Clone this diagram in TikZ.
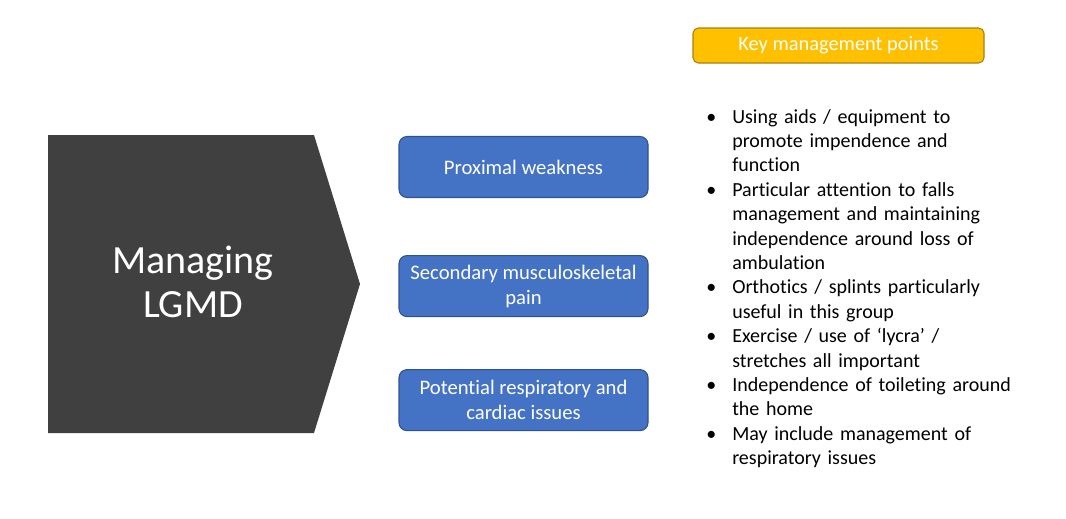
\documentclass[tikz,border=0pt]{standalone}
\usepackage{fontspec}
\setmainfont{Carlito}[Ligatures=NoCommon]
\usepackage{tikz}
\usetikzlibrary{positioning}
\definecolor{chevgray}{HTML}{404040}
\definecolor{boxblue}{HTML}{4472C4}
\definecolor{boxline}{HTML}{2F528F}
\definecolor{keyyellow}{HTML}{FFC000}
\definecolor{keyline}{HTML}{A5820C}
\tikzstyle{bluebox}  =
[
	draw=boxline,fill=boxblue,rectangle,line width=0.8pt,rounded corners=6pt,
	minimum width=186.75pt, minimum height=45.75pt,
	align=center, text=white, font=\fontsize{15.5}{18.8}\selectfont
]
\tikzstyle{keybox} =
[
	draw=keyline,fill=keyyellow,rectangle,line width=0.8pt,rounded corners=4pt,
	minimum width=218.25pt, minimum height=26.25pt,
	text=white, font=\fontsize{15.3}{18}\selectfont
]
\tikzstyle{dot} = [anchor=base west, inner sep=0pt, font=\fontsize{15}{18.3}\selectfont]
\tikzstyle{point} =
[
	anchor=base west, inner sep=0pt, text width=240pt, align=left,
	font=\fontsize{15}{18.3}\selectfont
]

\begin{document}
\begin{tikzpicture}[x=0.75pt,y=-0.75pt]
\useasboundingbox (0,0) rectangle (1066,518);

% chevron
\fill[chevgray] (48,135) -- (314,135) -- (360,284) -- (314,433) -- (48,433) -- cycle;
\node[text=white, inner sep=0pt, text width=200pt, align=center, anchor=base,
      font=\fontsize{30}{33}\selectfont] (title) at (193,273) {Managing\\LGMD};

% issues
\node[bluebox] (prox) at (523.5,167) {Proximal weakness};
\node[bluebox] (pain) [below=42.75pt of prox] {Secondary musculoskeletal\\pain};
\node[bluebox] (resp) [below=39pt of pain] {Potential respiratory and\\cardiac issues};

% key points
\node[keybox] (key) at (838.5,45.5) {Key management points};

\node[dot] (d1) at (706,123) {\textbullet};
\node[point] (p1) at (732,123) {Using aids / equipment to\\promote impendence and\\function};
\node[dot] (d2) at (706,196.2) {\textbullet};
\node[point] (p2) at (732,196.2) {Particular attention to falls\\management and maintaining\\independence around loss of\\ambulation};
\node[dot] (d3) at (706,293.8) {\textbullet};
\node[point] (p3) at (732,293.8) {Orthotics / splints particularly\\useful in this group};
\node[dot] (d4) at (706,342.6) {\textbullet};
\node[point] (p4) at (732,342.6) {Exercise / use of `lycra' /\\stretches all important};
\node[dot] (d5) at (706,391.4) {\textbullet};
\node[point] (p5) at (732,391.4) {Independence of toileting around\\the home};
\node[dot] (d6) at (706,440.2) {\textbullet};
\node[point] (p6) at (732,440.2) {May include management of\\respiratory issues};

\end{tikzpicture}
\end{document}
